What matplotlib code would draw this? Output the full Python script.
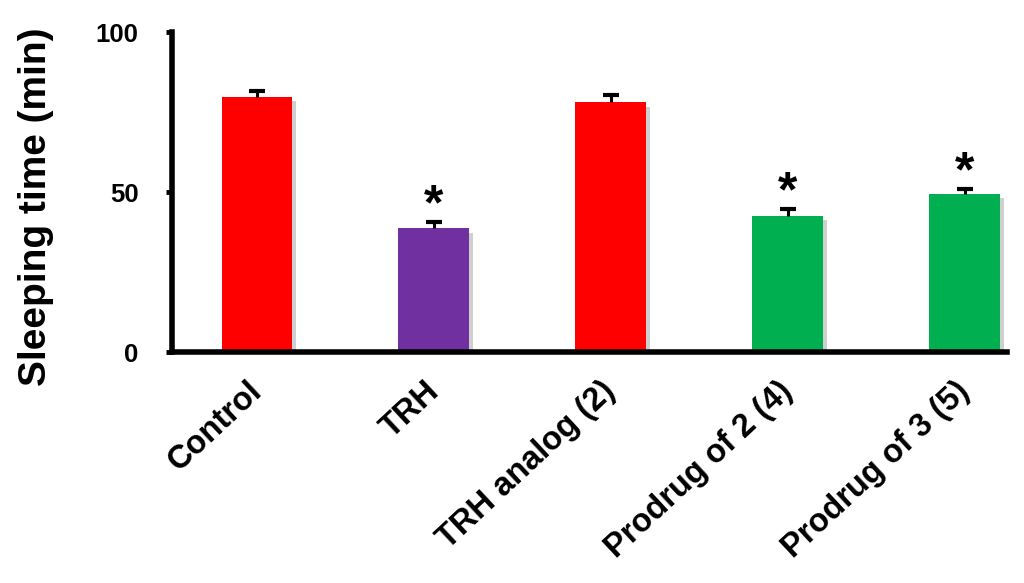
import matplotlib
matplotlib.use("Agg")
import matplotlib.pyplot as plt
import matplotlib.patheffects as pe
import matplotlib.transforms as mtransforms
import numpy as np

categories = ["Control", "TRH", "TRH analog (2)", "Prodrug of 2 (4)", "Prodrug of 3 (5)"]
values = [79.6, 38.6, 78.0, 42.6, 49.4]
errors = [2.0, 2.0, 2.3, 2.1, 1.5]
significant = [False, True, False, True, True]
colors = ["#FF0000", "#7030A0", "#FF0000", "#00B050", "#00B050"]
yticks = [0, 50, 100]

plt.rcParams["font.family"] = ["Liberation Sans", "DejaVu Sans"]
plt.rcParams["font.weight"] = "bold"

fig = plt.figure(figsize=(10.24, 5.83), dpi=100)
ax = fig.add_axes([172/1024, 1-352/583, (1007-172)/1024, 320/583])

x = np.arange(len(categories))
bars = ax.bar(x, values, width=0.4, color=colors, zorder=2)
for b in bars:
    b.set_path_effects([pe.SimplePatchShadow(offset=(3, -3), shadow_rgbFace="#888888", alpha=0.4), pe.Normal()])

eb = ax.errorbar(x, values, yerr=[[0]*len(values), errors], fmt="none", ecolor="black",
                 elinewidth=2.2, capsize=6, capthick=3, zorder=3)
eb[1][0].set_visible(False)

for xi, v, e, s in zip(x, values, errors, significant):
    if s:
        ax.annotate("*", (xi, v + e), xytext=(0, -5), textcoords="offset points",
                    ha="center", va="bottom", fontsize=36, fontweight="bold")

ax.set_xlim(-0.48, 4.24)
ax.set_ylim(0, 100)
ax.set_yticks(yticks)
ax.set_yticklabels([str(t) for t in yticks], fontsize=18.5, fontweight="bold")
ax.tick_params(axis="y", direction="out", length=4, width=3.5, pad=20)
ax.tick_params(axis="x", length=0, pad=17)
ax.set_xticks(x)
ax.set_xticklabels(categories, fontsize=23.5, fontweight="bold", rotation=43,
                   ha="right", va="top", rotation_mode="anchor")
shift = mtransforms.ScaledTranslation(-10/100, 0, fig.dpi_scale_trans)
for lab in ax.get_xticklabels():
    lab.set_transform(lab.get_transform() + shift)

for side in ["top", "right"]:
    ax.spines[side].set_visible(False)
for side in ["left", "bottom"]:
    ax.spines[side].set_linewidth(4)
    ax.spines[side].set_capstyle("projecting")

ax.set_ylabel("Sleeping time (min)", fontsize=28, fontweight="bold")
ax.yaxis.set_label_coords(-0.163, 0.453)
ax.yaxis.label.set_va("center")

fig.savefig("out.png", dpi=100)
